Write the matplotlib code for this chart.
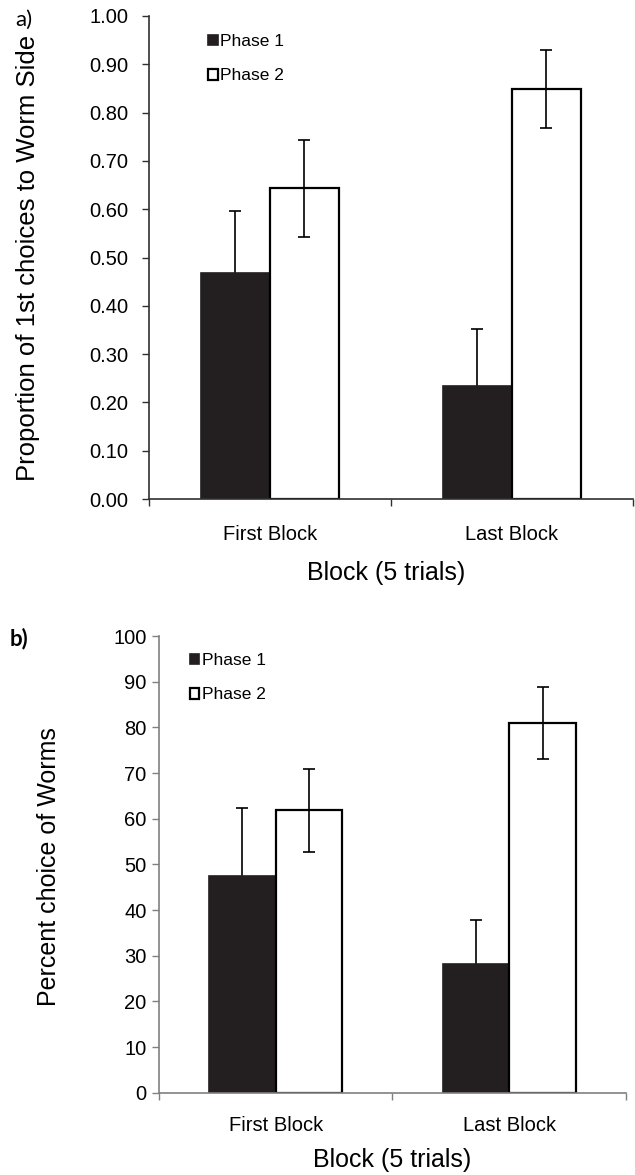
import numpy as np
import matplotlib
matplotlib.use("Agg")
import matplotlib.pyplot as plt

plt.rcParams['font.family'] = ['Liberation Sans', 'DejaVu Sans']

blocks = ['First Block', 'Last Block']
phases = ['Phase 1', 'Phase 2']

# a) proportion of 1st choices to worm side
prop_p1 = [0.467, 0.234]
prop_p1_err = [0.13, 0.118]
prop_p2 = [0.643, 0.849]
prop_p2_err = [0.10, 0.08]

# b) percent choice of worms
pct_p1 = [47.4, 28.1]
pct_p1_err = [15.0, 9.7]
pct_p2 = [61.8, 81.0]
pct_p2_err = [9.0, 7.9]

dark = '#231f20'
w = 0.285
x = np.arange(len(blocks))


def draw(ax, p1, e1, p2, e2, ymax, step, fmt, spine_col, ypad, xpad, leg_xy):
    b1 = ax.bar(x - w / 2, p1, w, color=dark, edgecolor=dark, linewidth=1.2,
                label=phases[0], zorder=2)
    b2 = ax.bar(x + w / 2, p2, w, color='white', edgecolor='black', linewidth=1.6,
                label=phases[1], zorder=2)
    # phase 1 error bars sit behind the dark bars so only the upper half shows
    ax.errorbar(x - w / 2, p1, yerr=e1, fmt='none', ecolor='black',
                elinewidth=1.2, capsize=4, capthick=1.2, zorder=1)
    ax.errorbar(x + w / 2, p2, yerr=e2, fmt='none', ecolor='black',
                elinewidth=1.2, capsize=4, capthick=1.2, zorder=3)

    ax.set_xlim(-0.5, 1.5)
    ax.set_ylim(0, ymax)
    yt = np.arange(0, ymax + step / 2, step)
    ax.set_yticks(yt)
    ax.set_yticklabels([fmt.format(v) for v in yt])
    ax.tick_params(axis='y', direction='out', length=5, width=1,
                   color=spine_col, labelsize=14.5, pad=ypad)

    ax.set_xticks([-0.5, 0.5, 1.5])
    ax.set_xticklabels([])
    ax.tick_params(axis='x', which='major', direction='out', length=5,
                   width=1, color=spine_col)
    ax.set_xticks(x, minor=True)
    ax.set_xticklabels(blocks, minor=True)
    ax.tick_params(axis='x', which='minor', length=0, labelsize=14.5, pad=xpad)

    for s in ['top', 'right']:
        ax.spines[s].set_visible(False)
    for s in ['left', 'bottom']:
        ax.spines[s].set_color(spine_col)
        ax.spines[s].set_linewidth(1.2)

    ax.legend(handles=[b1, b2], loc='upper left', bbox_to_anchor=leg_xy,
              frameon=False, fontsize=12.5, handlelength=0.55,
              handleheight=0.55, handletextpad=0.15, labelspacing=1.1,
              borderpad=0, borderaxespad=0)


fig = plt.figure(figsize=(6.35, 11.75), dpi=100)

ax1 = fig.add_axes([0.2346, 0.5753, 0.762, 0.4111])
draw(ax1, prop_p1, prop_p1_err, prop_p2, prop_p2_err, 1.0, 0.1, '{:.2f}',
     '#303030', 10, 19, (0.122, 0.962))
ax1.set_xlabel('Block (5 trials)', fontsize=18)
ax1.xaxis.set_label_coords(0.49, -0.128)
ax1.set_ylabel('Proportion of 1st choices to Worm Side', fontsize=18.5)
ax1.yaxis.set_label_coords(-0.225, 0.5)

ax2 = fig.add_axes([0.2504, 0.0700, 0.7354, 0.3887])
draw(ax2, pct_p1, pct_p1_err, pct_p2, pct_p2_err, 100, 10, '{:.0f}',
     '#808080', 4, 17, (0.066, 0.962))
ax2.set_xlabel('Block (5 trials)', fontsize=18)
ax2.xaxis.set_label_coords(0.5, -0.122)
ax2.set_ylabel('Percent choice of Worms', fontsize=18)
ax2.yaxis.set_label_coords(-0.21, 0.496)

fig.text(0.037, 0.983, 'a)', fontsize=16, ha='center', va='center',
         family=['Lato', 'DejaVu Sans'])
fig.text(0.030, 0.457, 'b)', fontsize=16, ha='center', va='center',
         fontweight='bold', family=['Lato', 'DejaVu Sans'])

fig.savefig('out.png', dpi=100)
